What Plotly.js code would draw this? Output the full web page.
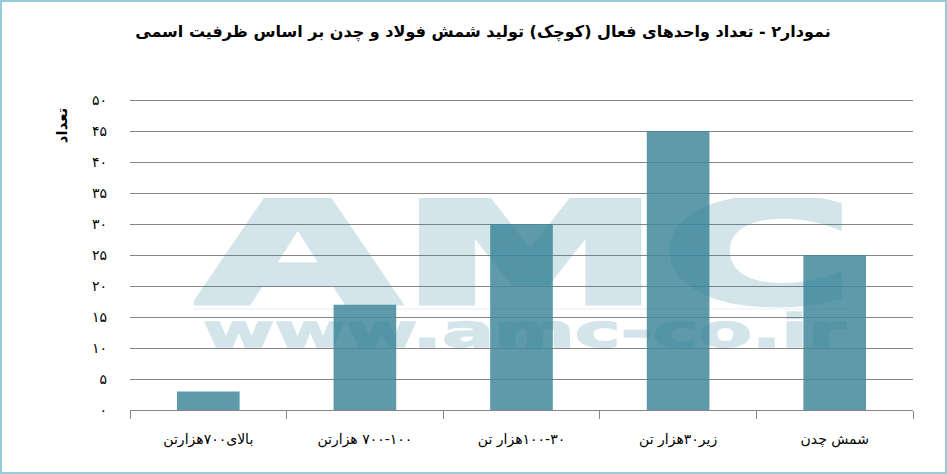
<!DOCTYPE html>
<html>
<head>
<meta charset="utf-8">
<script src="https://cdn.plot.ly/plotly-3.0.1.min.js"></script>
<style>
  body { margin: 0; background: #fff; }
  #wrap { position: relative; width: 947px; height: 474px; }
  #frame { position: absolute; left: 0; top: 0; width: 947px; height: 474px;
           box-sizing: border-box; border: 2px solid #92cddc; pointer-events: none; }
</style>
</head>
<body>
<div id="wrap">
  <div id="myDivChart"></div>
  <div id="frame"></div>
</div>
<script>
// categories, left to right as in the picture
var categories = ['بالای۷۰۰هزارتن', '۷۰۰-۱۰۰ هزارتن', '۱۰۰-۳۰هزار تن', 'زیر۳۰هزار تن', 'شمش چدن'];
var unitCount = [3, 17, 30, 45, 25];

var yTickVals = [0, 5, 10, 15, 20, 25, 30, 35, 40, 45, 50];
var yTickText = ['۰', '۵', '۱۰', '۱۵', '۲۰', '۲۵', '۳۰', '۳۵', '۴۰', '۴۵', '۵۰'];

var chartTitle = 'نمودار۲ - تعداد واحدهای فعال (کوچک) تولید شمش فولاد و چدن بر اساس ظرفیت اسمی';
var yTitle = 'تعداد';

// force right-to-left layout for labels that start with digits
function rtl(s) { return '\u202B' + s + '\u202C'; }

// watermark drawn as a stretched svg image
var wm = '<svg xmlns="http://www.w3.org/2000/svg" width="662" height="152" viewBox="0 0 662 152">' +
  '<g opacity="0.2" fill="rgb(40,130,160)" stroke="rgb(40,130,160)" font-family="DejaVu Sans" font-weight="bold">' +
  '<text x="2" y="105" font-size="143" stroke-width="5" textLength="658" lengthAdjust="spacingAndGlyphs">AMC</text>' +
  '<text x="9" y="149" font-size="46" stroke-width="1.5" textLength="643" lengthAdjust="spacingAndGlyphs">www.amc-co.ir</text>' +
  '</g>' +
  '<rect x="0" y="110" width="656" height="2" fill="rgb(40,130,160)" fill-opacity="0.06"/>' +
  '</svg>';

var trace1 = {
  x: categories,
  y: unitCount,
  type: 'bar',
  marker: {
    color: 'rgba(66,136,155,0.85)',
  },
  hovertemplate: '%{x}: %{y}<extra></extra>',
};

var layout = {
  width: 947,
  height: 474,
  margin: { l: 130, r: 34, t: 97, b: 64 },
  paper_bgcolor: '#fff',
  plot_bgcolor: '#fff',
  showlegend: false,
  bargap: 0.6,
  font: { family: 'DejaVu Sans, sans-serif', color: '#000' },
  title: {
    text: '<b>' + chartTitle + '</b>',
    xref: 'container',
    yref: 'container',
    x: 0.51,
    y: 0.934,
    xanchor: 'center',
    yanchor: 'middle',
    font: { family: 'DejaVu Sans, sans-serif', size: 16, color: '#000' },
  },
  xaxis: {
    fixedrange: true,
    showline: true,
    linecolor: '#868686',
    linewidth: 1,
    ticks: 'outside',
    tickson: 'boundaries',
    ticklen: 8,
    tickcolor: '#868686',
    tickvals: categories,
    ticktext: categories.map(rtl),
    ticklabelstandoff: 16,
    tickfont: { family: 'DejaVu Sans, sans-serif', size: 14, color: '#000' },
    showgrid: false,
  },
  yaxis: {
    fixedrange: true,
    range: [0, 50.5],
    tickvals: yTickVals,
    ticktext: yTickText,
    ticks: '',
    ticklabelstandoff: 22,
    showline: false,
    zeroline: false,
    showgrid: true,
    gridcolor: '#868686',
    gridwidth: 1,
    tickfont: { family: 'DejaVu Sans, sans-serif', size: 14, color: '#000' },
  },
  annotations: [{
    xref: 'paper',
    yref: 'paper',
    x: 0,
    xshift: -68,
    y: 0.91,
    xanchor: 'center',
    yanchor: 'middle',
    textangle: -90,
    text: '<b>' + yTitle + '</b>',
    showarrow: false,
    font: { family: 'DejaVu Sans, sans-serif', size: 15, color: '#000' },
  }],
  images: [{
    source: 'data:image/svg+xml;charset=utf-8,' + encodeURIComponent(wm),
    xref: 'paper',
    yref: 'paper',
    x: 0.0817,
    y: 0.6773,
    sizex: 0.8455,
    sizey: 0.4856,
    sizing: 'stretch',
    xanchor: 'left',
    yanchor: 'top',
    layer: 'above',
  }],
};

var config = {
  displayModeBar: false,
  responsive: false,
};

Plotly.newPlot('myDivChart', [trace1], layout, config);
</script>
</body>
</html>
